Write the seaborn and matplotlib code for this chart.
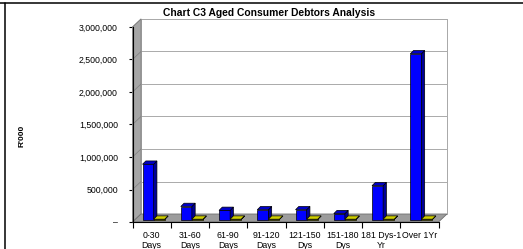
import matplotlib
matplotlib.use("Agg")
import matplotlib.pyplot as plt
import seaborn as sns
import pandas as pd
from matplotlib.patches import Polygon, Rectangle
from matplotlib.lines import Line2D
from matplotlib.transforms import ScaledTranslation

# ---------------- data ----------------
categories = ["0-30\nDays", "31-60\nDays", "61-90\nDays", "91-120\nDays",
              "121-150\nDys", "151-180\nDys", "181 Dys-1\nYr", "Over 1Yr"]
series_names = ["Debtors", "Other"]
debtors = [850000, 200000, 140000, 150000, 150000, 90000, 520000, 2550000]
other = [5000, 5000, 5000, 5000, 5000, 5000, 5000, 5000]
yticks = [0, 500000, 1000000, 1500000, 2000000, 2500000, 3000000]
ytick_labels = ["\u2013", "500,000", "1,000,000", "1,500,000",
                "2,000,000", "2,500,000", "3,000,000"]
title = "Chart C3 Aged Consumer Debtors Analysis"
ylabel = "R'000"

# ---------------- style ----------------
sns.set_theme(style="white")
plt.rcParams["font.family"] = ["Liberation Sans", "DejaVu Sans"]

W, H = 523, 249
fig = plt.figure(figsize=(W / 100, H / 100), dpi=100)
fig.patch.set_facecolor("white")

# front plane of the 3D box in pixels
x0, x1, y0, y1 = 132.5, 438.5, 222.0, 27.0
ax = fig.add_axes([x0 / W, (H - y0) / H, (x1 - x0) / W, (y0 - y1) / H])
ax.set_facecolor("none")

df = pd.DataFrame({
    "category": categories * 2,
    "value": debtors + other,
    "series": [series_names[0]] * len(categories) + [series_names[1]] * len(categories),
})

front_cols = ["#0000FF", "#E6E600"]
side_cols = ["#000096", "#9A9A00"]
top_cols = ["#0000C8", "#CFCF00"]

sns.barplot(data=df, x="category", y="value", hue="series", order=categories,
            hue_order=series_names, palette=front_cols, saturation=1,
            width=0.58, gap=0, edgecolor="black", linewidth=0.5,
            legend=False, ax=ax, zorder=5, err_kws={"linewidth": 0})

nx = len(categories)
ymax = 3000000
ax.set_xlim(-0.5, nx - 0.5)
ax.set_ylim(0, ymax)

ppx = (x1 - x0) / nx          # pixels per category
ppy = (y0 - y1) / ymax        # pixels per value unit


def px(dx, dy):
    return dx / ppx, dy / ppy


DX, DY = px(8.5, 8.0)        # wall depth
BDX, BDY = px(3.3, 3.3)      # bar depth

bars = [p for p in ax.patches if isinstance(p, Rectangle)]

# ---------------- walls ----------------
L, R = -0.5, nx - 0.5
left_wall = Polygon([(L, 0), (L, ymax), (L + DX, ymax + DY), (L + DX, DY)],
                    closed=True, facecolor="#A6A6A6", edgecolor="#7F7F7F",
                    linewidth=0.6, clip_on=False, zorder=1)
floor = Polygon([(L, 0), (R, 0), (R + DX, DY), (L + DX, DY)], closed=True,
                facecolor="#9C9C9C", edgecolor="#6F6F6F", linewidth=0.6,
                clip_on=False, zorder=1)
back = Rectangle((L + DX, DY), R - L, ymax, facecolor="white",
                 edgecolor="#A8A8A8", linewidth=0.7, clip_on=False, zorder=0.5)
for p in (back, left_wall, floor):
    ax.add_patch(p)

for v in yticks[1:]:
    ax.add_line(Line2D([L + DX, R + DX], [v + DY, v + DY], color="#AAAAAA",
                       linewidth=0.7, clip_on=False, zorder=0.8))
    ax.add_line(Line2D([L, L + DX], [v, v + DY], color="#808080",
                       linewidth=0.5, clip_on=False, zorder=1.5))

# ---------------- 3D bars ----------------
shift = ax.transData + ScaledTranslation(2.0 / 100, 2.5 / 100, fig.dpi_scale_trans)
for b in bars:
    x, y, w, h = b.get_x(), b.get_y(), b.get_width(), b.get_height()
    r, g, bl, _ = b.get_facecolor()
    k = 0 if bl > r else 1
    b.set_transform(shift)
    b.set_clip_on(False)
    side = Polygon([(x + w, y), (x + w + BDX, y + BDY), (x + w + BDX, y + h + BDY),
                    (x + w, y + h)], closed=True, facecolor=side_cols[k],
                   edgecolor="black", linewidth=0.5, transform=shift,
                   clip_on=False, zorder=5)
    top = Polygon([(x, y + h), (x + w, y + h), (x + w + BDX, y + h + BDY),
                   (x + BDX, y + h + BDY)], closed=True, facecolor=top_cols[k],
                  edgecolor="black", linewidth=0.5, transform=shift,
                  clip_on=False, zorder=5)
    ax.add_patch(side)
    ax.add_patch(top)

# ---------------- axes ----------------
for s in ("top", "right"):
    ax.spines[s].set_visible(False)
for s in ("left", "bottom"):
    ax.spines[s].set_visible(True)
    ax.spines[s].set_color("black")
    ax.spines[s].set_linewidth(0.8)
    ax.spines[s].set_zorder(6)
ax.grid(False)
ax.set_yticks(yticks)
ax.set_yticklabels(ytick_labels, fontsize=6.3, color="black")
ax.set_xticks(range(nx))
ax.set_xticklabels(categories, fontsize=6.3, color="black", linespacing=1.2)
ax.set_xticks([i - 0.5 for i in range(nx + 1)], minor=True)
ax.tick_params(axis="y", which="major", left=True, length=3, width=0.8,
               pad=7.5, color="black", direction="out")
ax.tick_params(axis="x", which="major", bottom=True, length=0, pad=6.5)
ax.tick_params(axis="x", which="minor", bottom=True, length=4, width=0.8,
               color="black", direction="out")
ax.set_xlabel("")
ax.set_ylabel("")

fig.text(269 / W, (H - 13) / H, title, ha="center", va="center",
         fontsize=7.4, fontweight="bold", color="black")
fig.text(21.5 / W, (H - 136) / H, ylabel, ha="center", va="center",
         rotation=90, fontsize=6, fontweight="bold", color="black")

# frame lines
fig.add_artist(Line2D([0, 1], [(H - 3.3) / H] * 2, color="black", linewidth=1.1,
                      transform=fig.transFigure))
fig.add_artist(Line2D([5.3 / W] * 2, [0, (H - 3.3) / H], color="black",
                      linewidth=1.1, transform=fig.transFigure))

fig.savefig("out.png", dpi=100, facecolor="white")
